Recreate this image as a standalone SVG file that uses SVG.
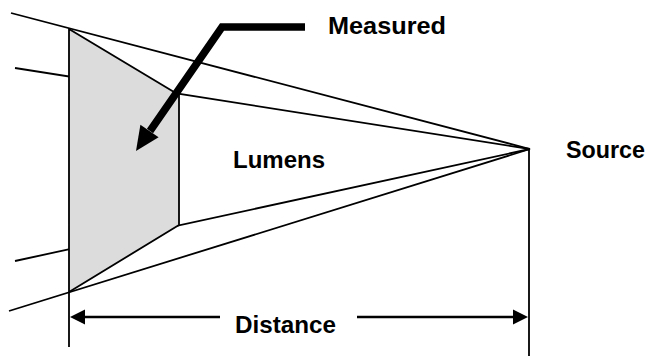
<svg xmlns="http://www.w3.org/2000/svg" width="649" height="356" viewBox="0 0 649 356">
<style>
.ln{stroke:#000;stroke-width:1.8;fill:none}
.dim{stroke:#000;stroke-width:2.5;fill:none}
.lbl{font-family:"Liberation Sans",Arial,sans-serif;font-weight:bold;font-size:24px;fill:#000}
</style>
<rect width="649" height="356" fill="#fff"/>
<g id="rays">
<line class="ln" x1="11" y1="13" x2="530" y2="149"/>
<line class="ln" x1="15" y1="68" x2="530" y2="149"/>
<line class="ln" x1="15" y1="261" x2="530" y2="149"/>
<line class="ln" x1="9" y1="311" x2="530" y2="149"/>
</g>
<g id="measured-area">
<polygon points="69,29 179,95 179,225 69,292" fill="#dcdcdc" stroke="#000" stroke-width="1.8" stroke-linejoin="round"/>
</g>
<g id="pointer">
<path d="M305,27 L222,27 L150,131" fill="none" stroke="#000" stroke-width="7.5" stroke-linejoin="miter"/>
<polygon points="136,151 158.6,137.2 140.4,124.8" fill="#000"/>
</g>
<g id="dimension">
<line class="ln" x1="69" y1="292" x2="69" y2="347"/>
<line class="ln" x1="529" y1="149" x2="529" y2="356"/>
<line class="dim" x1="82" y1="317" x2="220" y2="317"/>
<line class="dim" x1="357" y1="317" x2="515" y2="317"/>
<polygon points="70,317 85,309.5 85,324.5" fill="#000"/>
<polygon points="528,317 513,309.5 513,324.5" fill="#000"/>
</g>
<g id="labels">
<text class="lbl" x="328" y="34" textLength="118" lengthAdjust="spacingAndGlyphs">Measured</text>
<text class="lbl" x="233" y="168" textLength="92" lengthAdjust="spacingAndGlyphs">Lumens</text>
<text class="lbl" x="566" y="158" textLength="79" lengthAdjust="spacingAndGlyphs">Source</text>
<text class="lbl" x="235" y="333" textLength="101" lengthAdjust="spacingAndGlyphs">Distance</text>
</g>
</svg>
